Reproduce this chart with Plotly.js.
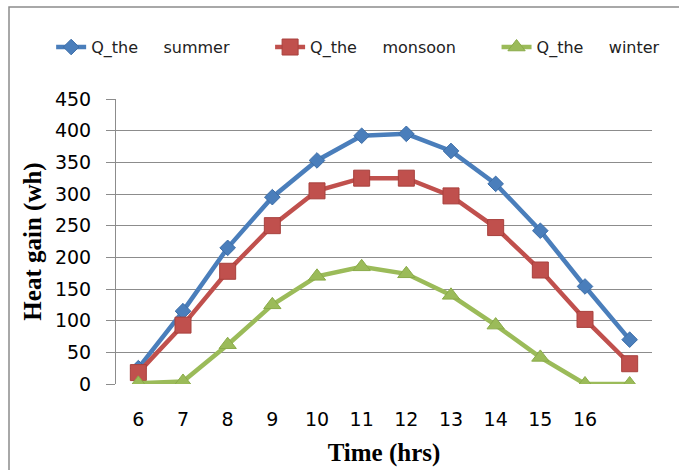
<!DOCTYPE html>
<html>
<head>
<meta charset="utf-8">
<script src="https://cdn.plot.ly/plotly-3.0.1.min.js"></script>
<style>
  html, body { margin: 0; padding: 0; background: #ffffff; }
  #chart { width: 679px; height: 470px; }
</style>
</head>
<body>
<div id="chart"></div>
<script>
// Hourly heat gain (wh) for the three seasons
const hours = [6, 7, 8, 9, 10, 11, 12, 13, 14, 15, 16, 17];
const hourLabels = ['6', '7', '8', '9', '10', '11', '12', '13', '14', '15', '16'];
const summer  = [25, 115, 215, 295, 353, 392, 395, 368, 316, 242, 154, 70];
const monsoon = [18, 93, 178, 250, 305, 325, 325, 297, 247, 180, 102, 32];
const winter  = [1, 4, 62, 125, 170, 185, 174, 140, 93, 42, 0, 0];
const yTicks = [0, 50, 100, 150, 200, 250, 300, 350, 400, 450];

// legend names: wide gap between the two words, trailing space pads the entry
const nb = n => '\u00a0'.repeat(n);
const seriesNames = [
  'Q_the' + nb(5) + 'summer' + nb(7),
  'Q_the' + nb(5) + 'monsoon' + nb(7),
  'Q_the' + nb(5) + 'winter'
];

const sansFont = 'DejaVu Sans, Verdana, sans-serif';
const serifFont = 'Liberation Serif, Times New Roman, serif';

function series(name, y, color, edge, symbol, size) {
  return {
    type: 'scatter', mode: 'lines+markers', name: name,
    x: hours, y: y,
    line: { color: color, width: 4.5 },
    marker: { symbol: symbol, size: size, color: color, line: { color: edge, width: 1 } }
  };
}

const traces = [
  series(seriesNames[0], summer,  '#4a7ebb', '#3d6ea8', 'diamond', 12),
  series(seriesNames[1], monsoon, '#c0504d', '#a8403d', 'square', 16),
  series(seriesNames[2], winter,  '#9bbb59', '#8aab49', 'triangle-up', 15)
];

const layout = {
  width: 679, height: 470,
  margin: { l: 116, r: 27, t: 99, b: 86 },
  paper_bgcolor: '#ffffff', plot_bgcolor: '#ffffff',
  font: { family: sansFont, color: '#000000' },
  showlegend: true,
  legend: {
    orientation: 'h', x: -0.121, xanchor: 'left', y: 1.182, yanchor: 'middle',
    font: { size: 16, family: sansFont, color: '#222222' },
    tracegroupgap: 0, bgcolor: 'rgba(0,0,0,0)'
  },
  xaxis: {
    range: [5.5, 17.5], tickmode: 'array', tickvals: hours.slice(0, hourLabels.length), ticktext: hourLabels,
    showgrid: false, zeroline: false, showline: false, ticks: '',
    tickfont: { size: 19 }, ticklabelstandoff: 22,
    title: { text: '<b>Time (hrs)</b>', font: { size: 25, family: serifFont }, standoff: 14 }
  },
  yaxis: {
    range: [0, 450], tickmode: 'array', tickvals: yTicks,
    showgrid: true, gridcolor: '#8c8c8c', gridwidth: 1,
    zeroline: false, showline: true, linecolor: '#8c8c8c', linewidth: 1,
    ticks: 'outside', ticklen: 9, tickcolor: '#8c8c8c', tickwidth: 1,
    tickfont: { size: 19 }, ticklabelstandoff: 11,
    title: { text: '<b>Heat gain (wh)</b>', font: { size: 25, family: serifFont }, standoff: 6 }
  },
  shapes: [
    { type: 'rect', xref: 'paper', yref: 'paper',
      x0: (9 - 116) / 536, x1: (690 - 116) / 536, y0: -0.35, y1: (384 - 7) / 285,
      line: { color: '#8c8c8c', width: 1.5 }, fillcolor: 'rgba(0,0,0,0)', layer: 'below' }
  ]
};

Plotly.newPlot('chart', traces, layout, { displayModeBar: false, staticPlot: true });
</script>
</body>
</html>
